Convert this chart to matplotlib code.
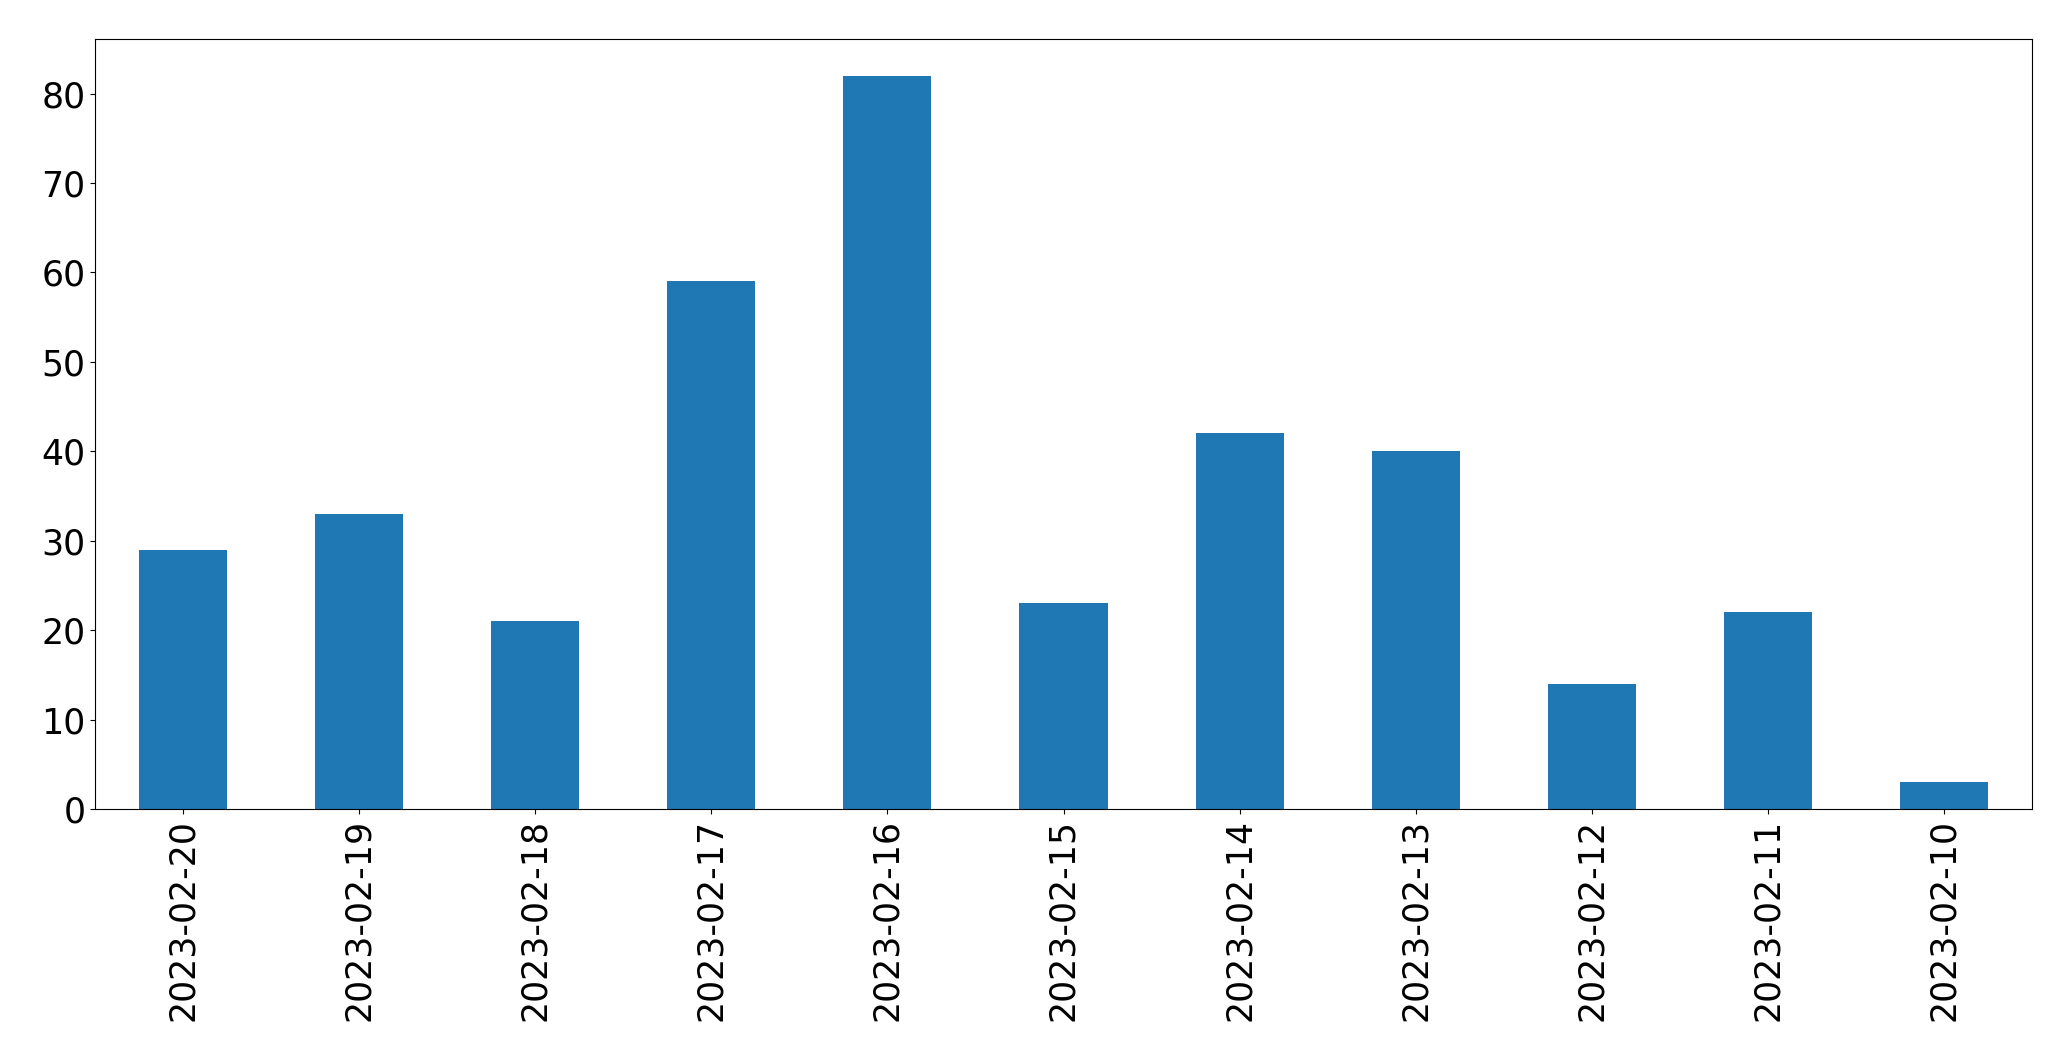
import matplotlib.pyplot as plt
import numpy as np

dates = ['2023-02-20', '2023-02-19', '2023-02-18', '2023-02-17', '2023-02-16',
         '2023-02-15', '2023-02-14', '2023-02-13', '2023-02-12', '2023-02-11',
         '2023-02-10']
counts = [29, 33, 21, 59, 82, 23, 42, 40, 14, 22, 3]

fig, ax = plt.subplots(figsize=(20.71, 10.61), dpi=100)
fig.subplots_adjust(left=95 / 2071, right=2032 / 2071, top=1 - 39 / 1061, bottom=1 - 809 / 1061)

x = np.arange(len(dates))
ax.bar(x, counts, width=0.5, color='#1f77b4')
ax.set_xlim(-0.5, len(dates) - 0.5)
ax.set_ylim(0, max(counts) * 1.05)
ax.set_xticks(x)
ax.set_xticklabels(dates, rotation=90)
ax.tick_params(axis='both', labelsize=25)

plt.savefig('out.png', dpi=100)
